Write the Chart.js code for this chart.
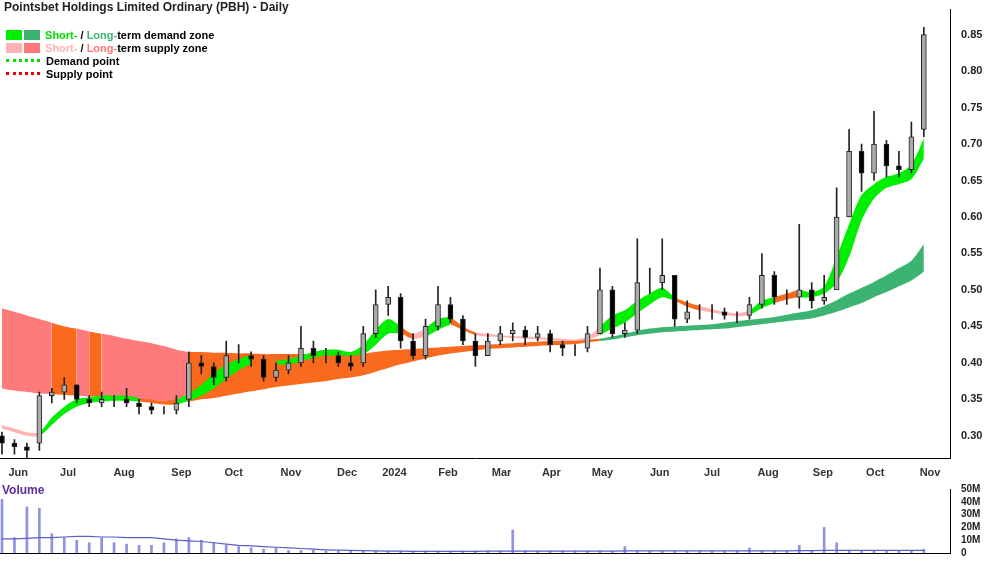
<!DOCTYPE html>
<html><head><meta charset="utf-8">
<script src="https://cdn.jsdelivr.net/npm/chart.js@4"></script>
<style>
body{margin:0;width:1000px;height:562px;background:#fff;font-family:Arial,"Liberation Sans",sans-serif;position:relative;overflow:hidden}
canvas{position:absolute;left:0}
#pc{top:0}
#vc{top:480px}
.t{position:absolute;font-size:12px;font-weight:bold;color:#222;white-space:nowrap}
.lg{position:absolute;left:6px;font-size:11px;font-weight:bold;white-space:nowrap}
.sw{display:inline-block;width:16px;height:10px;margin-right:2px;vertical-align:-1px}
.dl{display:inline-block;width:34px;height:0;border-top:3px dotted;margin-right:6px;vertical-align:3px}
</style></head><body>
<canvas id="pc" width="1000" height="480"></canvas>
<canvas id="vc" width="1000" height="82"></canvas>
<div class="t" style="left:4px;top:0px">Pointsbet Holdings Limited Ordinary (PBH) - Daily</div>
<div class="lg" style="top:29px"><span class="sw" style="background:#00ee00"></span><span class="sw" style="background:#3cb371"></span> <span style="color:#00dd00">Short-</span> / <span style="color:#3cb371">Long-</span>term demand zone</div>
<div class="lg" style="top:42px"><span class="sw" style="background:#ffb4b4"></span><span class="sw" style="background:#ff7878"></span> <span style="color:#ffb4b4">Short-</span> / <span style="color:#ff7878">Long-</span>term supply zone</div>
<div class="lg" style="top:55px"><span class="dl" style="border-color:#00dd00"></span>Demand point</div>
<div class="lg" style="top:68px"><span class="dl" style="border-color:#ee0000"></span>Supply point</div>
<div class="lg" style="top:483px;left:2px;color:#5a2ca0;font-size:12px">Volume</div>
<script>
const monthLabels=["Jun","Jul","Aug","Sep","Oct","Nov","Dec","2024","Feb","Mar","Apr","May","Jun","Jul","Aug","Sep","Oct","Nov"];
const monthPos=[1.3,5.3,9.8,14.4,18.6,23.2,27.7,31.5,35.8,40.1,44.1,48.2,52.8,57,61.5,65.9,70.1,74.5];
const priceTicks=[0.30,0.35,0.40,0.45,0.50,0.55,0.60,0.65,0.70,0.75,0.80,0.85];
const volTicks=[0,10,20,30,40,50];
const openP=[0.30,0.29,0.285,0.29,0.355,0.36,0.37,0.35,0.345,0.35,0.35,0.345,0.34,0.335,0.335,0.35,0.40,0.395,0.38,0.41,0.41,0.405,0.38,0.39,0.40,0.42,0.41,0.41,0.40,0.40,0.44,0.48,0.49,0.43,0.41,0.45,0.48,0.46,0.43,0.41,0.43,0.44,0.445,0.435,0.44,0.425,0.42,0.42,0.44,0.50,0.44,0.445,0.51,0.51,0.52,0.46,0.47,0.47,0.47,0.465,0.465,0.48,0.52,0.49,0.49,0.50,0.485,0.50,0.60,0.69,0.66,0.70,0.67,0.665,0.72];
const highP=[0.305,0.295,0.29,0.36,0.365,0.38,0.37,0.355,0.36,0.355,0.365,0.35,0.345,0.34,0.355,0.415,0.41,0.40,0.43,0.425,0.415,0.41,0.40,0.41,0.45,0.43,0.42,0.415,0.41,0.45,0.50,0.505,0.495,0.44,0.46,0.505,0.49,0.465,0.44,0.44,0.45,0.455,0.45,0.45,0.445,0.43,0.425,0.45,0.53,0.505,0.455,0.57,0.53,0.57,0.52,0.485,0.48,0.48,0.475,0.47,0.49,0.55,0.525,0.50,0.59,0.51,0.52,0.64,0.72,0.70,0.745,0.705,0.69,0.73,0.86];
const lowP=[0.275,0.275,0.27,0.28,0.345,0.35,0.345,0.34,0.34,0.34,0.34,0.33,0.33,0.33,0.33,0.34,0.385,0.37,0.375,0.40,0.395,0.375,0.375,0.385,0.395,0.40,0.40,0.395,0.39,0.395,0.435,0.465,0.42,0.405,0.405,0.445,0.455,0.425,0.395,0.41,0.425,0.43,0.425,0.43,0.415,0.41,0.41,0.415,0.44,0.435,0.435,0.44,0.495,0.50,0.45,0.455,0.46,0.46,0.46,0.455,0.46,0.475,0.48,0.48,0.475,0.475,0.48,0.52,0.60,0.635,0.65,0.655,0.655,0.66,0.71];
const closeP=[0.29,0.285,0.28,0.355,0.36,0.37,0.35,0.345,0.35,0.35,0.345,0.34,0.335,0.335,0.345,0.40,0.395,0.38,0.41,0.41,0.405,0.38,0.39,0.40,0.42,0.41,0.41,0.40,0.395,0.44,0.48,0.49,0.43,0.41,0.45,0.48,0.46,0.43,0.41,0.43,0.44,0.445,0.435,0.44,0.425,0.42,0.42,0.44,0.50,0.44,0.445,0.51,0.51,0.52,0.46,0.47,0.47,0.47,0.465,0.465,0.48,0.52,0.49,0.49,0.50,0.485,0.49,0.60,0.69,0.66,0.70,0.67,0.665,0.71,0.85];
const ltUp=[0.475,0.47,0.465,0.46,0.455,0.45,0.447,0.443,0.44,0.437,0.433,0.43,0.427,0.423,0.418,0.415,0.415,0.414,0.414,0.413,0.413,0.412,0.412,0.412,0.412,0.412,0.412,0.412,0.412,0.413,0.415,0.417,0.418,0.419,0.42,0.421,0.422,0.423,0.424,0.425,0.426,0.427,0.428,0.429,0.43,0.43,0.431,0.432,0.433,0.436,0.44,0.444,0.447,0.449,0.45,0.451,0.452,0.453,0.455,0.457,0.459,0.461,0.463,0.466,0.469,0.472,0.478,0.486,0.495,0.503,0.511,0.52,0.53,0.54,0.563];
const ltLo=[0.365,0.362,0.36,0.358,0.357,0.356,0.355,0.354,0.353,0.352,0.351,0.35,0.349,0.348,0.347,0.347,0.35,0.352,0.355,0.358,0.361,0.364,0.367,0.369,0.371,0.373,0.375,0.378,0.38,0.383,0.388,0.393,0.398,0.402,0.406,0.41,0.413,0.415,0.417,0.419,0.42,0.421,0.422,0.423,0.424,0.425,0.426,0.428,0.43,0.432,0.435,0.438,0.44,0.442,0.443,0.444,0.445,0.446,0.447,0.449,0.451,0.453,0.455,0.457,0.459,0.461,0.465,0.47,0.476,0.482,0.49,0.497,0.505,0.513,0.525];
const ltState="SSSSOOSOSSSSSSSOOOOOOOOOOOOOOOOOOOOOOOOOOOOOOOOOGGGGGGGGGGGGGGGGGGGGGGGGGGG";
const stUp=[0.315,0.31,0.305,0.305,0.325,0.34,0.35,0.353,0.355,0.355,0.355,0.352,0.35,0.348,0.35,0.358,0.37,0.385,0.398,0.405,0.41,0.405,0.403,0.405,0.41,0.415,0.418,0.418,0.415,0.425,0.445,0.46,0.45,0.44,0.448,0.46,0.462,0.45,0.442,0.44,0.438,0.437,0.436,0.435,0.434,0.433,0.432,0.436,0.45,0.465,0.472,0.485,0.495,0.503,0.49,0.483,0.478,0.474,0.47,0.468,0.472,0.485,0.49,0.495,0.5,0.497,0.505,0.545,0.59,0.63,0.645,0.655,0.66,0.672,0.708];
const stLo=[0.31,0.305,0.3,0.3,0.315,0.33,0.34,0.345,0.347,0.348,0.348,0.347,0.345,0.343,0.343,0.348,0.355,0.365,0.378,0.39,0.398,0.4,0.398,0.398,0.402,0.407,0.41,0.41,0.41,0.412,0.425,0.44,0.44,0.433,0.436,0.445,0.452,0.445,0.438,0.436,0.435,0.434,0.433,0.432,0.431,0.43,0.43,0.432,0.438,0.447,0.455,0.468,0.48,0.49,0.485,0.477,0.472,0.469,0.466,0.464,0.466,0.475,0.482,0.487,0.49,0.49,0.495,0.51,0.545,0.595,0.625,0.64,0.645,0.652,0.68];
const stState="PPPGGGGGGGGOOOGGGGGGOOGGGGGGGGGGOPGGOOPPPPPPPPPPGGGGGGOOPPPPGGOOGGGGGGGGGGG";
const volume=[42,12,36,35,15,12,10,8,12,8,7,6,6,8,11,12,10,8,6,5,4,3,4,2,2,2,1.5,1.5,1.5,1.5,1.5,1.5,1.5,1.5,1.5,1.5,1.5,1.5,1.5,1.5,1.5,18,1.5,1.5,1.5,1.5,1.5,1.5,1.5,1.5,5,1.5,1.5,1.5,1.5,1.5,1.5,1.5,1.5,1.5,4,1.5,1.5,1.5,6,2,20,8,2,2,1.5,1.5,1.5,1.5,3];
const volMA=[11,11,11.5,12,12,12.5,13,13,12.5,12.5,12,12,12,11,10,9.5,9,8,7,6,5.5,5,4.5,4,3.5,3,2.5,2.2,2,1.8,1.6,1.5,1.4,1.3,1.3,1.3,1.3,1.3,1.3,1.4,1.4,1.5,1.5,1.5,1.5,1.5,1.5,1.5,1.5,1.5,1.6,1.6,1.6,1.6,1.6,1.6,1.6,1.6,1.6,1.6,1.7,1.7,1.7,1.7,1.8,1.8,2,2,2,2,2,2,2,2,2];

const idx=closeP.map((_,i)=>i);
const pts=a=>a.map((v,i)=>({x:i,y:v}));
const col={S:'#ff7b7b',O:'#fa6a1e',G:'#3cb371',P:'#ffb4b4'};
const colS={P:'#ffb4b4',O:'#fa6a1e',G:'#00ee00'};
const bandLine=d=>({type:'line',data:pts(d),pointRadius:0,borderWidth:0,borderColor:'rgba(0,0,0,0)',tension:0.3});
const xMin=-0.16,xMax=76.1;
const xScale={type:'linear',offset:false,min:xMin,max:xMax,grid:{display:false,offset:false},border:{display:true,color:'#000'},
 afterBuildTicks:a=>{a.ticks=monthPos.map(v=>({value:v}))},
 ticks:{autoSkip:false,maxRotation:0,padding:0,color:'#333',font:{size:11,weight:'bold'},callback:(v,i)=>monthLabels[i]}};

new Chart(document.getElementById('pc'),{
 type:'bar',
 data:{datasets:[
  {...bandLine(ltLo),order:10},
  {...bandLine(ltUp),order:9,fill:{target:0},backgroundColor:col.S,segment:{backgroundColor:c=>col[ltState[c.p0DataIndex]]}},
  {...bandLine(stLo),order:8},
  {...bandLine(stUp),order:7,fill:{target:2},backgroundColor:colS.G,segment:{backgroundColor:c=>colS[stState[c.p0DataIndex]]}},
  {type:'bar',data:idx.map(i=>({x:i,y:[lowP[i],highP[i]]})),backgroundColor:'#222',barThickness:1,grouped:false,order:2},
  {type:'bar',data:idx.map(i=>({x:i,y:[openP[i],closeP[i]]})),backgroundColor:idx.map(i=>closeP[i]>=openP[i]?'#aaaaaa':'#000'),borderColor:'#222',borderWidth:1,borderSkipped:false,barThickness:5,grouped:false,order:1}
 ]},
 options:{responsive:false,animation:false,
  layout:{padding:{top:0,left:0,right:0,bottom:0}},
  plugins:{legend:{display:false},tooltip:{enabled:false}},
  scales:{x:xScale,
   y:{position:'right',min:0.2685,max:0.8843,grid:{display:false},border:{color:'#000'},
    afterBuildTicks:a=>{a.ticks=priceTicks.map(v=>({value:v}))},
    afterFit:a=>{a.width=50},
    ticks:{autoSkip:false,color:'#222',font:{size:11,weight:'bold'},callback:v=>v.toFixed(2)}}}}
});
new Chart(document.getElementById('vc'),{
 type:'bar',
 data:{datasets:[
  {type:'line',data:pts(volMA),borderColor:'#5b5fc7',borderWidth:1.2,pointRadius:0,order:1},
  {type:'bar',data:pts(volume),backgroundColor:'#8f92e0',barThickness:2,order:2}
 ]},
 options:{responsive:false,animation:false,
  layout:{padding:{top:0,bottom:0}},
  plugins:{legend:{display:false},tooltip:{enabled:false}},
  scales:{x:{type:'linear',offset:false,min:xMin,max:xMax,display:true,grid:{display:false},border:{color:'#000'},ticks:{display:false}},
   y:{position:'right',min:0,max:50,grid:{display:false},border:{color:'#000'},
    afterBuildTicks:a=>{a.ticks=volTicks.map(v=>({value:v}))},
    afterFit:a=>{a.width=50},
    ticks:{autoSkip:false,color:'#222',font:{size:10,weight:'bold'},callback:v=>v===0?'0':v+'M'}}}}
});
</script>
</body></html>
